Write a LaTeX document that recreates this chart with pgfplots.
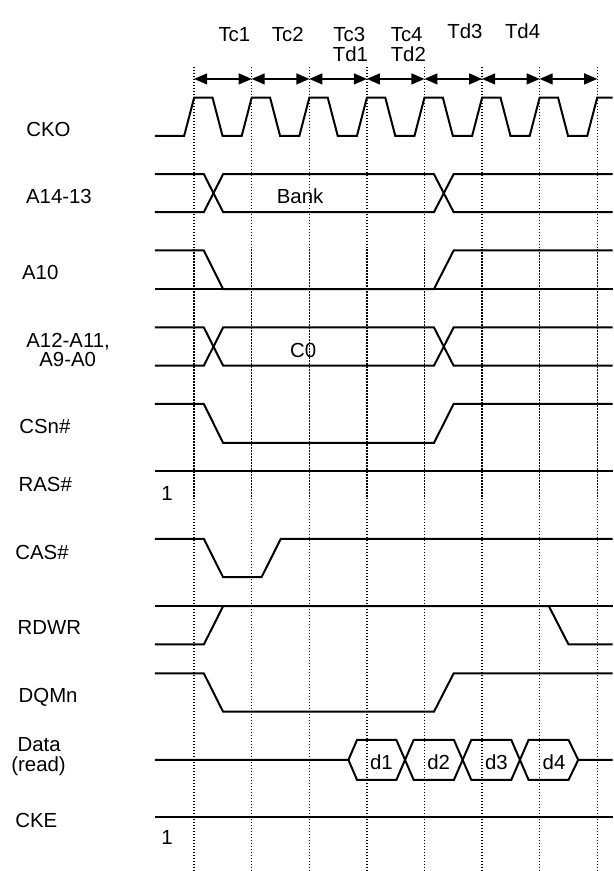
\documentclass[border=0pt]{standalone}
\usepackage{fontspec}
\setmainfont{Liberation Sans}
\usepackage{pgfplots}
\pgfplotsset{compat=1.18}
\usetikzlibrary{arrows.meta}

% all coordinates are in pixels of the 613x871 sheet, y pointing down
\begin{document}
\begin{tikzpicture}[
    font=\fontsize{10.2pt}{12pt}\selectfont,
    lbl/.style={anchor=base west, inner sep=0pt},
    grid line/.style={black, line width=0.7pt, dash pattern=on 0.6pt off 0.9pt, line cap=butt},
    cyc/.style={black, line width=0.65pt, arrows={Triangle[length=6.5pt,width=5.5pt]-Triangle[length=6.5pt,width=5.5pt]}},
]
\begin{axis}[
    hide axis,
    scale only axis,
    width=306.5pt, height=435.5pt,
    xmin=0, xmax=613,
    ymin=0, ymax=871,
    y dir=reverse,
    clip=false,
    cycle list={{black, solid, no markers}},
    every axis plot/.append style={line width=1pt, line join=miter},
]
\addplot[draw=none] coordinates {(0,0) (613,871)};

% clock edges (dotted)
\addplot[grid line] coordinates {(194.3,66.7) (194.3,871)};
\addplot[grid line] coordinates {(251.9,66.7) (251.9,871)};
\addplot[grid line] coordinates {(309.6,66.7) (309.6,871)};
\addplot[grid line] coordinates {(367.2,66.7) (367.2,871)};
\addplot[grid line] coordinates {(424.8,66.7) (424.8,871)};
\addplot[grid line] coordinates {(482.5,66.7) (482.5,871)};
\addplot[grid line] coordinates {(540.1,66.7) (540.1,871)};
\addplot[grid line] coordinates {(597.7,66.7) (597.7,871)};

% cycle arrows
\addplot[cyc] coordinates {(194.3,79) (251.9,79)};
\addplot[cyc] coordinates {(251.9,79) (309.6,79)};
\addplot[cyc] coordinates {(309.6,79) (367.2,79)};
\addplot[cyc] coordinates {(367.2,79) (424.8,79)};
\addplot[cyc] coordinates {(424.8,79) (482.5,79)};
\addplot[cyc] coordinates {(482.5,79) (540.1,79)};
\addplot[cyc] coordinates {(540.1,79) (597.7,79)};

% CKO
\addplot coordinates {
  (155,136) (184.3,136) (194.3,97.7) (212.7,97.7) (222.7,136)
  (241.9,136) (251.9,97.7) (270.3,97.7) (280.3,136)
  (299.6,136) (309.6,97.7) (328.0,97.7) (338.0,136)
  (357.2,136) (367.2,97.7) (385.6,97.7) (395.6,136)
  (414.8,136) (424.8,97.7) (443.2,97.7) (453.2,136)
  (472.5,136) (482.5,97.7) (500.9,97.7) (510.9,136)
  (530.1,136) (540.1,97.7) (558.5,97.7) (568.5,136)
  (587.7,136) (597.7,97.7) (613,97.7)
};

% A14-13
\addplot coordinates {(155,174.3) (204,174.3) (223.3,212.3) (434.3,212.3) (454,174.3) (613,174.3)};
\addplot coordinates {(155,212.3) (204,212.3) (223.3,174.3) (434.3,174.3) (454,212.3) (613,212.3)};

% A10
\addplot coordinates {(155,250.7) (204,250.7) (223.3,289.3) (434.3,289.3) (454,250.7) (613,250.7)};
\addplot coordinates {(155,289.3) (613,289.3)};

% A12-A11, A9-A0
\addplot coordinates {(155,327.7) (204,327.7) (223.3,366) (434.3,366) (454,327.7) (613,327.7)};
\addplot coordinates {(155,366) (204,366) (223.3,327.7) (434.3,327.7) (454,366) (613,366)};

% CSn#
\addplot coordinates {(155,404.3) (204,404.3) (223.3,443.3) (434.3,443.3) (454,404.3) (613,404.3)};

% RAS#
\addplot coordinates {(155,471.7) (613,471.7)};

% CAS#
\addplot coordinates {(155,539.3) (204,539.3) (223.3,577.7) (261.7,577.7) (281,539.3) (613,539.3)};

% RDWR
\addplot coordinates {(155,606.7) (613,606.7)};
\addplot coordinates {(155,645) (204,645) (223.3,606.7) (549.3,606.7) (569,645) (613,645)};

% DQMn
\addplot coordinates {(155,674) (204,674) (223.3,712.3) (434.3,712.3) (454,674) (613,674)};

% Data (read)
\addplot coordinates {
  (155,760.5) (348.7,760.5) (357.3,740.5) (396.7,740.5) (414,780.5) (454.3,780.5)
  (471.7,740.5) (511.7,740.5) (529,780.5) (569,780.5) (578.7,760.5) (613,760.5)
};
\addplot coordinates {
  (348.7,760.5) (357.3,780.5) (396.7,780.5) (414,740.5) (454.3,740.5)
  (471.7,780.5) (511.7,780.5) (529,740.5) (569,740.5) (578.7,760.5)
};

% CKE
\addplot coordinates {(155,817.7) (613,817.7)};

% cycle names
\node[lbl] at (axis cs:218.3,41.7) {Tc1};
\node[lbl] at (axis cs:271.7,41.7) {Tc2};
\node[lbl] at (axis cs:333.3,41.7) {Tc3};
\node[lbl] at (axis cs:390.7,41.7) {Tc4};
\node[lbl] at (axis cs:447.3,38.3) {Td3};
\node[lbl] at (axis cs:505,38.3) {Td4};
\node[lbl] at (axis cs:332.7,61.7) {Td1};
\node[lbl] at (axis cs:390.7,61.7) {Td2};

% signal names
\node[lbl] at (axis cs:26,136.7) {CKO};
\node[lbl] at (axis cs:25.7,204) {A14-13};
\node[lbl] at (axis cs:21.7,279.3) {A10};
\node[lbl] at (axis cs:26,347.3) {A12-A11,};
\node[lbl] at (axis cs:39,366.7) {A9-A0};
\node[lbl] at (axis cs:19,434) {CSn\#};
\node[lbl] at (axis cs:18.3,491.7) {RAS\#};
\node[lbl] at (axis cs:15,560) {CAS\#};
\node[lbl] at (axis cs:17.3,635.3) {RDWR};
\node[lbl] at (axis cs:18.3,702.7) {DQMn};
\node[lbl] at (axis cs:17.3,751.7) {Data};
\node[lbl] at (axis cs:11,772) {(read)};
\node[lbl] at (axis cs:15,827.7) {CKE};

% values on the waveforms
\node[lbl] at (axis cs:161,501) {1};
\node[lbl] at (axis cs:161,845.5) {1};
\node[lbl] at (axis cs:276.7,203.3) {Bank};
\node[lbl] at (axis cs:290,357.7) {C0};
\node[lbl] at (axis cs:370,770.5) {d1};
\node[lbl] at (axis cs:427.3,770.5) {d2};
\node[lbl] at (axis cs:485,770.5) {d3};
\node[lbl] at (axis cs:542.7,770.5) {d4};
\end{axis}
\end{tikzpicture}
\end{document}
